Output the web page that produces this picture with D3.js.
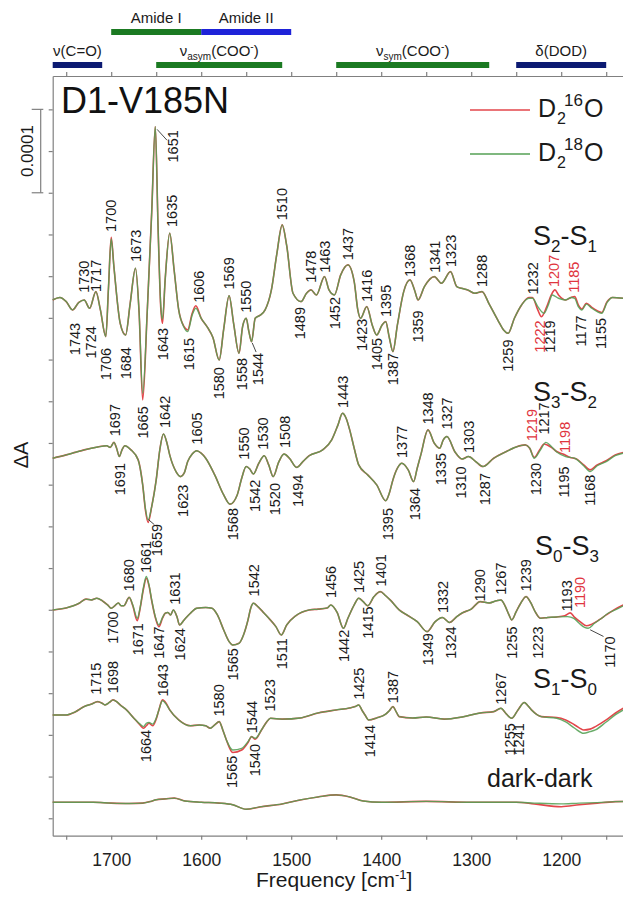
<!DOCTYPE html>
<html><head><meta charset="utf-8">
<script src="https://cdn.jsdelivr.net/npm/d3@7"></script>
<style>body{margin:0;background:#fff}svg{display:block}text{font-family:"Liberation Sans",Arial,sans-serif}</style>
</head><body><svg id="c" width="623" height="903"></svg>
<script>
// ---------- DATA (ΔA in units of 1e-5, relative to each trace's baseline) ----------
const s21_16O = [[1765,0],[1757,0.3],[1750,-0.2],[1743,-1.2],[1736,-0.3],[1730,0],[1724,-1.0],[1717,1.0],[1712,-1.2],[1706,-4.4],[1703,1.5],[1700,7.5],[1697,4],[1690,-2.8],[1684,-4.2],[1679,-0.5],[1673,3.8],[1669,-1.5],[1665,-12.0],[1660,-1.5],[1655,10.5],[1651,20.8],[1648,9],[1645,-0.8],[1643,-2.8],[1640,2.5],[1635,8.0],[1630,3.5],[1625,-1.2],[1619,-3.2],[1615,-3.6],[1610,-1.6],[1606,-0.7],[1600,-2.2],[1593,-3.3],[1587,-4.5],[1580,-7.2],[1575,-3.5],[1569,0.5],[1564,-2.8],[1558,-6.4],[1554,-3.2],[1550,-2.2],[1547,-3.8],[1544,-5.0],[1540,-2.2],[1534,-1.8],[1529,-1.2],[1522,1.2],[1516,5.5],[1510,9.0],[1505,6.5],[1498,0.8],[1489,-0.2],[1483,0.8],[1478,1.2],[1472,0.6],[1463,2.8],[1458,1.2],[1452,0.6],[1445,3.0],[1437,4.2],[1430,2.2],[1426,-1.2],[1423,-2.2],[1416,-0.8],[1410,-3.0],[1405,-4.2],[1399,-3.0],[1395,-2.6],[1391,-4.5],[1387,-6.2],[1382,-3.0],[1375,1.0],[1368,2.4],[1363,1.2],[1359,0],[1352,1.6],[1341,2.8],[1333,2.0],[1323,3.4],[1316,1.6],[1311,1.4],[1304,1.2],[1296,0.8],[1288,1.0],[1280,-0.5],[1270,-2.5],[1264,-3.6],[1259,-4.0],[1252,-2.2],[1244,-0.6],[1236,0.3],[1232,0.3],[1226,-1.2],[1222,-2.0],[1216,-0.8],[1211,0.6],[1207,1.2],[1203,0.6],[1195,0],[1189,0.3],[1185,0.4],[1181,-0.6],[1177,-1.1],[1172,-0.4],[1166,-0.9],[1160,-1.3],[1155,-1.5],[1149,-0.2],[1143,0.3],[1131,0.2]];
const s21_18O = [[1765,0],[1757,0.3],[1750,-0.2],[1743,-1.2],[1736,-0.3],[1730,0],[1724,-1.0],[1717,1.0],[1712,-1.2],[1706,-4.4],[1703,1.5],[1700,7.3],[1697,4],[1690,-2.8],[1684,-4.2],[1679,-0.5],[1673,3.8],[1669,-1.5],[1665,-11.2],[1660,-1.5],[1655,10.5],[1651,20.8],[1648,9],[1645,-0.5],[1643,-2.3],[1640,2.5],[1635,8.0],[1630,3.5],[1625,-1.2],[1619,-3.3],[1615,-3.8],[1610,-1.8],[1606,-1.0],[1600,-2.2],[1593,-3.3],[1587,-4.5],[1580,-7.2],[1575,-3.5],[1569,0.5],[1564,-2.8],[1558,-6.4],[1554,-3.2],[1550,-2.2],[1547,-3.8],[1544,-5.0],[1540,-2.2],[1534,-1.8],[1529,-1.2],[1522,1.2],[1516,5.5],[1510,9.0],[1505,6.5],[1498,0.8],[1489,-0.2],[1483,0.8],[1478,1.2],[1472,0.6],[1463,2.8],[1458,1.2],[1452,0.6],[1445,3.0],[1437,4.2],[1430,2.2],[1426,-1.2],[1423,-2.2],[1416,-0.8],[1410,-3.0],[1405,-4.2],[1399,-3.0],[1395,-2.6],[1391,-4.5],[1387,-6.2],[1382,-3.0],[1375,1.0],[1368,2.4],[1363,1.2],[1359,0],[1352,1.6],[1341,2.8],[1333,2.0],[1323,3.4],[1316,1.6],[1311,1.4],[1304,1.2],[1296,0.8],[1288,1.0],[1280,-0.5],[1270,-2.5],[1264,-3.6],[1259,-4.0],[1252,-2.2],[1244,-0.6],[1236,0.2],[1232,0.2],[1226,-0.8],[1219,-1.6],[1214,-0.5],[1210,0.6],[1203,0.2],[1195,0],[1189,0.3],[1185,0.2],[1181,-0.8],[1177,-1.2],[1172,-0.5],[1166,-1.0],[1160,-1.4],[1155,-1.6],[1149,-0.3],[1143,0.3],[1131,0.2]];

const s32_16O = [[1765,0],[1750,0.4],[1740,0.7],[1730,1.0],[1715,1.35],[1705,1.5],[1701,1.3],[1697,1.9],[1694,1.2],[1691,0.2],[1688,1.0],[1685,1.5],[1678,1.0],[1670,-0.2],[1665,-3.2],[1662,-6.2],[1659,-7.7],[1655,-5.8],[1650,-2.6],[1646,1.0],[1642,2.9],[1638,1.8],[1635,0.4],[1628,-1.6],[1623,-2.2],[1619,-1.8],[1615,-0.4],[1610,0.5],[1605,0.9],[1600,0.6],[1595,0],[1585,-2.0],[1575,-4.4],[1568,-5.5],[1560,-4.4],[1555,-2.4],[1550,-1.0],[1546,-1.3],[1542,-1.9],[1536,-0.6],[1530,0.3],[1525,-0.8],[1520,-2.2],[1514,-0.5],[1508,0.5],[1502,0.0],[1494,-1.1],[1487,-0.4],[1480,0.3],[1465,1.0],[1455,2.2],[1448,4.0],[1443,5.4],[1439,4.8],[1435,3.4],[1430,1.2],[1425,-0.8],[1415,-2.0],[1405,-3.2],[1395,-5.1],[1391,-4.2],[1387,-2.6],[1382,-1.2],[1377,-0.6],[1370,-1.4],[1364,-2.8],[1360,-1.2],[1356,0.4],[1348,3.4],[1341,1.8],[1335,1.2],[1331,2.2],[1327,2.6],[1318,0.75],[1310,-0.1],[1303,0.2],[1295,-0.4],[1287,-1.0],[1275,0],[1262,0.75],[1250,1.35],[1240,1.6],[1235,1.2],[1230,0.1],[1224,1.0],[1219,1.7],[1211,1.3],[1205,0.8],[1198,0.5],[1190,0.1],[1183,-0.1],[1175,-0.8],[1168,-1.4],[1160,-0.8],[1150,-0.3],[1140,0.4],[1131,0.7]];
const s32_18O = [[1765,0],[1750,0.4],[1740,0.7],[1730,1.0],[1715,1.35],[1705,1.5],[1701,1.3],[1697,1.9],[1694,1.2],[1691,0.2],[1688,1.0],[1685,1.5],[1678,1.0],[1670,-0.2],[1665,-3.2],[1662,-6.0],[1659,-7.4],[1655,-5.8],[1650,-2.6],[1646,1.0],[1642,2.9],[1638,1.8],[1635,0.4],[1628,-1.6],[1623,-2.2],[1619,-1.8],[1615,-0.4],[1610,0.5],[1605,0.9],[1600,0.6],[1595,0],[1585,-2.0],[1575,-4.4],[1568,-5.5],[1560,-4.4],[1555,-2.4],[1550,-1.0],[1546,-1.3],[1542,-1.9],[1536,-0.6],[1530,0.3],[1525,-0.8],[1520,-2.2],[1514,-0.5],[1508,0.5],[1502,0.0],[1494,-1.1],[1487,-0.4],[1480,0.3],[1465,1.0],[1455,2.2],[1448,4.0],[1443,5.4],[1439,4.8],[1435,3.4],[1430,1.2],[1425,-0.8],[1415,-2.0],[1405,-3.2],[1395,-5.1],[1391,-4.2],[1387,-2.6],[1382,-1.2],[1377,-0.6],[1370,-1.4],[1364,-2.8],[1360,-1.2],[1356,0.4],[1348,3.4],[1341,1.8],[1335,1.2],[1331,2.2],[1327,2.6],[1318,0.75],[1310,-0.1],[1303,0.2],[1295,-0.4],[1287,-1.0],[1275,0],[1262,0.75],[1250,1.35],[1240,1.6],[1235,1.2],[1230,0],[1223,1.0],[1217,1.9],[1211,1.4],[1205,0.75],[1195,0.2],[1185,0],[1175,-0.9],[1168,-1.6],[1160,-0.9],[1150,-0.4],[1140,0.3],[1131,0.6]];

const s03_16O = [[1765,0],[1750,0.24],[1742,0.5],[1735,0.84],[1728,1.3],[1722,1.2],[1716,1.4],[1710,1.1],[1704,0.6],[1700,0.2],[1696,0.5],[1692,0.84],[1689,0.5],[1686,0.5],[1680,1.5],[1676,0.5],[1671,-1.3],[1668,0.1],[1664,2.6],[1661,3.8],[1658,2.9],[1655,1.1],[1651,-0.9],[1647,-2.0],[1643,-1.0],[1640,-0.4],[1637,-0.3],[1634,-0.6],[1631,0],[1627,-0.8],[1624,-1.8],[1619,-1.2],[1612,-0.4],[1605,0.2],[1595,0.3],[1588,0.2],[1582,-0.6],[1575,-2.4],[1569,-3.8],[1565,-4.2],[1558,-4.0],[1553,-3.0],[1548,-1.2],[1545,0.2],[1542,0.8],[1538,0.5],[1530,-0.4],[1524,-1.1],[1517,-2.0],[1511,-3.0],[1505,-1.8],[1495,-0.7],[1480,0],[1470,0.1],[1460,0.24],[1456,0.6],[1449,-0.3],[1442,-2.2],[1437,-1.0],[1430,0.6],[1425,1.4],[1420,1.0],[1415,0.5],[1408,1.6],[1401,2.2],[1395,1.7],[1390,1.2],[1380,0],[1370,-0.7],[1360,-1.4],[1349,-2.6],[1340,-1.4],[1332,-0.9],[1324,-1.5],[1316,-0.8],[1310,-0.36],[1300,0.1],[1290,1.0],[1280,0.84],[1272,1.1],[1267,1.2],[1262,0.4],[1258,-0.6],[1255,-1.2],[1250,-0.2],[1245,0.8],[1239,1.6],[1234,0.9],[1229,-0.2],[1223,-1.0],[1215,-0.9],[1205,-0.84],[1196,-0.7],[1190,-0.35],[1185,-0.9],[1178,-1.5],[1172,-1.9],[1166,-1.7],[1158,-1.2],[1150,-0.6],[1140,0.1],[1131,0.6]];
const s03_18O = [[1765,0],[1750,0.24],[1742,0.5],[1735,0.84],[1728,1.3],[1722,1.2],[1716,1.4],[1710,1.1],[1704,0.6],[1700,0.2],[1696,0.5],[1692,0.84],[1689,0.5],[1686,0.5],[1680,1.5],[1676,0.6],[1671,-1.0],[1668,0.2],[1664,2.8],[1661,4.0],[1658,3.0],[1655,1.2],[1651,-0.8],[1647,-1.8],[1643,-0.9],[1640,-0.4],[1637,-0.3],[1634,-0.6],[1631,0],[1627,-0.8],[1624,-1.8],[1619,-1.2],[1612,-0.4],[1605,0.2],[1595,0.3],[1588,0.2],[1582,-0.6],[1575,-2.4],[1569,-3.8],[1565,-4.2],[1558,-4.0],[1553,-3.0],[1548,-1.2],[1545,0.2],[1542,0.8],[1538,0.5],[1530,-0.4],[1524,-1.1],[1517,-2.0],[1511,-3.0],[1505,-1.8],[1495,-0.7],[1480,0],[1470,0.1],[1460,0.24],[1456,0.6],[1449,-0.3],[1442,-2.2],[1437,-1.0],[1430,0.6],[1425,1.4],[1420,1.0],[1415,0.5],[1408,1.6],[1401,2.2],[1395,1.7],[1390,1.2],[1380,0],[1370,-0.7],[1360,-1.4],[1349,-2.6],[1340,-1.4],[1332,-0.9],[1324,-1.5],[1316,-0.8],[1310,-0.36],[1300,0.1],[1290,1.0],[1280,0.84],[1272,1.1],[1267,1.2],[1262,0.4],[1258,-0.6],[1255,-1.2],[1250,-0.2],[1245,0.8],[1239,1.6],[1234,0.9],[1229,-0.2],[1223,-1.0],[1215,-0.9],[1205,-0.84],[1193,-0.8],[1186,-1.0],[1180,-1.6],[1174,-2.1],[1170,-2.2],[1163,-1.6],[1155,-1.0],[1148,-0.4],[1140,0],[1131,0.5]];

const s10_16O = [[1765,0],[1750,0],[1740,0.36],[1730,1.0],[1722,1.3],[1715,1.6],[1710,1.4],[1707,1.2],[1702,1.5],[1698,1.8],[1694,1.6],[1690,1.2],[1683,0.6],[1675,-0.36],[1668,-1.2],[1664,-1.6],[1661,-1.3],[1658,-1.0],[1654,-1.3],[1650,-0.5],[1647,0.6],[1643,1.8],[1639,1.4],[1635,0.6],[1625,-0.6],[1612,-1.3],[1602,-1.2],[1595,-1.3],[1590,-1.6],[1585,-1.2],[1580,-0.8],[1576,-1.8],[1572,-3.0],[1565,-4.5],[1555,-4.2],[1548,-3.3],[1544,-2.6],[1540,-2.9],[1533,-1.8],[1527,-0.8],[1523,-0.4],[1510,-0.5],[1490,-0.36],[1470,0.24],[1450,0.6],[1435,0.84],[1429,1.0],[1425,1.2],[1421,0.5],[1418,0],[1414,-0.6],[1405,-0.36],[1395,0.1],[1391,0.5],[1387,1.0],[1383,0.3],[1380,-0.2],[1365,-0.36],[1350,-0.24],[1330,-0.5],[1310,-0.24],[1290,0.24],[1275,0.4],[1267,0.8],[1261,0.12],[1255,-0.4],[1248,0.6],[1241,1.5],[1237,1.1],[1233,0.6],[1222,-0.2],[1205,-0.3],[1195,-0.6],[1185,-1.2],[1175,-1.8],[1168,-1.7],[1162,-1.4],[1150,-0.6],[1140,0.2],[1131,0.8]];
const s10_18O = [[1765,0],[1750,0],[1740,0.36],[1730,1.0],[1722,1.3],[1715,1.6],[1710,1.4],[1707,1.2],[1702,1.5],[1698,1.8],[1694,1.6],[1690,1.2],[1683,0.6],[1675,-0.36],[1668,-1.1],[1664,-1.4],[1661,-1.0],[1658,-0.9],[1654,-1.1],[1650,-0.4],[1647,0.6],[1643,1.7],[1639,1.3],[1635,0.6],[1625,-0.6],[1612,-1.3],[1602,-1.2],[1595,-1.3],[1590,-1.6],[1585,-1.2],[1580,-0.8],[1576,-1.8],[1572,-3.0],[1565,-4.2],[1555,-4.0],[1548,-3.2],[1544,-2.6],[1540,-2.8],[1533,-1.8],[1527,-0.8],[1523,-0.4],[1510,-0.5],[1490,-0.36],[1470,0.24],[1450,0.6],[1435,0.84],[1429,1.0],[1425,1.2],[1421,0.5],[1418,0],[1414,-0.6],[1405,-0.36],[1395,0.1],[1391,0.5],[1387,1.0],[1383,0.3],[1380,-0.2],[1365,-0.36],[1350,-0.24],[1330,-0.5],[1310,-0.24],[1290,0.24],[1275,0.4],[1267,0.8],[1261,0.12],[1255,-0.4],[1248,0.6],[1241,1.5],[1237,1.1],[1233,0.6],[1222,-0.2],[1205,-0.4],[1195,-0.84],[1185,-1.6],[1175,-2.2],[1168,-2.0],[1162,-1.8],[1150,-0.84],[1140,0],[1131,0.6]];

const dd_16O = [[1765,0],[1740,0],[1720,0],[1700,-0.1],[1680,-0.15],[1665,-0.1],[1656,0.1],[1650,0.3],[1640,0.4],[1630,0.5],[1618,0.15],[1600,0],[1580,-0.1],[1565,-0.3],[1550,-0.84],[1535,-0.56],[1510,-0.2],[1490,0.28],[1470,0.64],[1450,0.88],[1435,0.64],[1420,0.15],[1400,0],[1350,0.1],[1300,0],[1250,0],[1230,-0.2],[1200,-0.53],[1180,-0.3],[1160,-0.1],[1140,0.07],[1131,0.1]];
const dd_18O = [[1765,0],[1740,0],[1720,0],[1700,-0.1],[1680,-0.15],[1665,-0.1],[1656,0.1],[1650,0.3],[1640,0.4],[1630,0.5],[1618,0.15],[1600,0],[1580,-0.1],[1565,-0.3],[1550,-0.84],[1535,-0.56],[1510,-0.2],[1490,0.28],[1470,0.64],[1450,0.88],[1435,0.64],[1420,0.15],[1400,0],[1350,0.1],[1300,0],[1250,0],[1230,-0.1],[1200,-0.2],[1180,-0.1],[1160,-0.05],[1140,0.07],[1131,0.1]];

// vertical offsets of the traces (1e-5 ΔA)
const traceOffsets = [62.15, 43.17, 24.98, 12.39, 1.92];
const traceNames = ["S2-S1","S3-S2","S0-S3","S1-S0","dark-dark"];

// peak labels: [text, x position (cm-1), y position (1e-5 ΔA, absolute), side, colour]
const labelsS21 = [["1730",1730,63.0,"u"],["1717",1717,63.1,"u"],["1700",1700,70.3,"u"],["1673",1673,66.7,"u"],["1635",1632.6,70.9,"u"],["1606",1602.2,61.8,"u"],["1569",1569,63.4,"u"],["1550",1550,60.6,"u"],["1510",1510,71.7,"u"],["1478",1478,64.2,"u"],["1463",1463,65.4,"u"],["1437",1437,66.9,"u"],["1416",1416,61.9,"u"],["1395",1395,60.1,"u"],["1368",1368,64.9,"u"],["1341",1341,65.4,"u"],["1323",1323,66.1,"u"],["1288",1288,63.7,"u"],["1232",1232,62.8,"u"],["1207",1208.6,63.7,"u","r"],["1185",1186.3,63.0,"u","r"],
["1743",1741,59.4,"d"],["1724",1722.4,59.0,"d"],["1706",1706,56.4,"d"],["1684",1684,56.5,"d"],["1665",1665,49.4,"d"],["1643",1643,58.8,"d"],["1615",1613.3,57.6,"d"],["1580",1580,54.1,"d"],["1558",1554.8,55.2,"d"],["1544",1537.2,55.8,"d"],["1489",1491,61.3,"d"],["1452",1452,62.5,"d"],["1423",1422,59.9,"d"],["1405",1405,57.6,"d"],["1387",1387,55.8,"d"],["1359",1359,60.9,"d"],["1259",1259,57.4,"d"],["1222",1223.3,59.7,"d","r"],["1219",1212.2,59.7,"d"],["1177",1178.6,60.3,"d"],["1155",1156,60.0,"d"],["1651",1631.7,82.5,"d"]];
const labelsS32 = [["1697",1696.4,45.8,"u"],["1642",1641,46.8,"u"],["1605",1604.4,44.8,"u"],["1550",1552.2,43.0,"u"],["1530",1531.7,44.2,"u"],["1508",1507.6,44.4,"u"],["1443",1443,49.2,"u"],["1377",1377,43.2,"u"],["1348",1348.3,47.2,"u"],["1327",1327,46.6,"u"],["1303",1303,43.8,"u"],["1219",1232.6,45.2,"u","r"],["1217",1219.7,46.0,"u"],["1198",1195.6,43.8,"u","r"],
["1691",1690.9,42.6,"d"],["1659",1649,35.3,"d"],["1623",1620.6,40.0,"d"],["1568",1565,37.2,"d"],["1542",1540.9,40.6,"d"],["1520",1518.7,40.2,"d"],["1494",1492.8,41.2,"d"],["1395",1392.8,37.2,"d"],["1364",1363.1,39.6,"d"],["1335",1333.6,43.8,"d"],["1310",1311.3,42.2,"d"],["1287",1285.3,41.4,"d"],["1230",1228,42.6,"d"],["1195",1197.4,42.2,"d"],["1168",1168.7,41.2,"d"]];
const labelsS03 = [["1680",1680,27.2,"u"],["1661",1661.5,29.4,"u"],["1631",1629.8,25.6,"u"],["1542",1542,26.6,"u"],["1456",1456,26.4,"u"],["1425",1425,27.0,"u"],["1401",1401,27.8,"u"],["1332",1332,24.6,"u"],["1290",1290,26.0,"u"],["1267",1267,26.8,"u"],["1239",1239,27.2,"u"],["1193",1193.7,24.8,"u"],["1190",1179,25.2,"u","r"],
["1700",1698.6,24.8,"d"],["1671",1671,23.4,"d"],["1647",1647,23.0,"d"],["1624",1624,22.8,"d"],["1565",1565,20.4,"d"],["1511",1510.2,21.6,"d"],["1442",1442,22.6,"d"],["1415",1415,25.4,"d"],["1349",1348.3,22.2,"d"],["1324",1322.2,23.0,"d"],["1255",1255,23.0,"d"],["1223",1226,23.0,"d"],["1170",1146.4,21.8,"d"]];
const labelsS10 = [["1715",1716.9,14.8,"u"],["1698",1698,15.0,"u"],["1643",1643,14.6,"u"],["1580",1580,12.2,"u"],["1544",1544,10.2,"u"],["1523",1524.2,12.8,"u"],["1425",1425,14.2,"u"],["1387",1387,13.8,"u"],["1267",1267,13.6,"u"],
["1664",1661.3,10.6,"d"],["1565",1566,7.5,"d"],["1540",1540,8.9,"d"],["1414",1413,11.2,"d"],["1255",1257.6,11.4,"d"],["1241",1247.4,11.4,"d"]];
// leader lines [[cm-1, ΔA],[cm-1, ΔA]]
const leaders = [[[1649,82.6],[1638,81.3]],[[1543.3,57.0],[1539,55.9]],[[1658.5,35.8],[1652,35.2]],[[1167.8,22.6],[1153,21.8]]];

// band assignment bars: [label, from, to, row, colour key]
const bands = [["ν(C=O)",1765,1710,2,"navy"],["Amide I",1700,1600,1,"green"],["Amide II",1600,1500,1,"blue"],["νasym(COO-)",1650,1510,2,"green"],["νsym(COO-)",1450,1280,2,"green"],["δ(DOD)",1250,1150,2,"navy"]];

const xTicks = [1750,1700,1650,1600,1550,1500,1450,1400,1350,1300,1250,1200,1150];
const xTickLabels = [1700,1600,1500,1400,1300,1200];
const yTicks = d3.range(0, 86, 5);

// ---------- DRAW ----------
const RED = "#e3464b", GREEN = "#54a054", LBLRED = "#e0353d";
const bandCol = {navy:"#0c1a72", green:"#1b7a22", blue:"#1e22d8"};
const svg = d3.select("#c");
const x = d3.scaleLinear().domain([1765,1131]).range([52.7,623.3]);
const y = d3.scaleLinear().domain([-2.09,89.0]).range([835.7,76]);

const axCol = "#808080";
const gB = svg.append("g").attr("transform","translate(0,835.7)")
  .call(d3.axisBottom(x).tickValues(xTicks).tickSize(4).tickSizeOuter(0)
  .tickFormat(d => xTickLabels.includes(d) ? d : ""));
gB.selectAll("text").attr("font-size",17.5).attr("fill","#222").attr("dy",0).attr("y",30);
const gT = svg.append("g").attr("transform","translate(0,76)")
  .call(d3.axisTop(x).tickValues(xTicks).tickSize(4).tickSizeOuter(0).tickFormat(""));
const gL = svg.append("g").attr("transform","translate(52.7,0)")
  .call(d3.axisLeft(y).tickValues(yTicks).tickSize(4).tickSizeOuter(0).tickFormat(""));
svg.selectAll(".domain, .tick line").attr("stroke",axCol).attr("stroke-width",1.2);
svg.selectAll(".tick text").attr("font-family",'"Liberation Sans",Arial,sans-serif');

const series = [[s21_16O,s21_18O],[s32_16O,s32_18O],[s03_16O,s03_18O],[s10_16O,s10_18O],[dd_16O,dd_18O]];
const plot = svg.append("g");
series.forEach((pair,i)=>{
  const off = traceOffsets[i];
  const line = d3.line().x(d=>x(d[0])).y(d=>y(d[1]+off)).curve(d3.curveMonotoneX);
  plot.append("path").attr("d",line(pair[0])).attr("fill","none").attr("stroke",RED).attr("stroke-width",1.6);
  plot.append("path").attr("d",line(pair[1])).attr("fill","none").attr("stroke",GREEN).attr("stroke-width",1.4).attr("stroke-opacity",0.88);
});

const lg = svg.append("g");
[labelsS21,labelsS32,labelsS03,labelsS10].forEach(arr=>arr.forEach(l=>{
  const [t,f,v,side,c] = l;
  lg.append("text").attr("transform",`translate(${x(f)+5.2},${y(v)}) rotate(-90)`)
    .attr("text-anchor", side==="u"?"start":"end").attr("font-size",14.5)
    .attr("fill", c==="r"?LBLRED:"#1a1a1a").text(t);
}));
leaders.forEach(l=>{
  lg.append("line").attr("x1",x(l[0][0])).attr("y1",y(l[0][1])).attr("x2",x(l[1][0])).attr("y2",y(l[1][1]))
    .attr("stroke","#333").attr("stroke-width",0.9);
});

const bg = svg.append("g");
bands.forEach(b=>{
  const [lab,f1,f2,row,col] = b;
  const yb = row===1 ? 29 : 62;
  bg.append("rect").attr("x",x(f1)).attr("y",yb).attr("width",x(f2)-x(f1)).attr("height",6).attr("fill",bandCol[col]);
  const tx = bg.append("text").attr("x",(x(f1)+x(f2))/2).attr("y",yb-6.5).attr("text-anchor","middle")
    .attr("font-size",15).attr("fill","#1a1a1a");
  if (lab.startsWith("νasym")||lab.startsWith("νsym")){
    const sub = lab.startsWith("νasym") ? "asym" : "sym";
    tx.append("tspan").text("ν");
    tx.append("tspan").attr("font-size",10).attr("dy",4).text(sub);
    tx.append("tspan").attr("dy",-4).text("(COO");
    tx.append("tspan").attr("font-size",10).attr("dy",-6).text("-");
    tx.append("tspan").attr("dy",6).text(")");
  } else tx.text(lab);
});

svg.append("text").attr("x",61).attr("y",113).attr("font-size",36).attr("fill","#111").text("D1-V185N");

const leg = [["16",RED,110,117],["18",GREEN,154,161]];
leg.forEach(l=>{
  svg.append("line").attr("x1",470).attr("x2",530).attr("y1",l[2]).attr("y2",l[2]).attr("stroke",l[1]).attr("stroke-width",1.3);
  const t = svg.append("text").attr("y",l[3]).attr("font-size",25).attr("fill","#1a1a1a");
  t.append("tspan").attr("x",538).text("D");
  t.append("tspan").attr("x",557).attr("dy",7).attr("font-size",16).text("2");
  t.append("tspan").attr("x",564).attr("dy",-18).attr("font-size",17).text(l[0]);
  t.append("tspan").attr("x",584).attr("dy",11).text("O");
});

const nm = [["2","1",533,245],["3","2",533,401],["0","3",535,555],["1","0",533,688]];
nm.forEach(n=>{
  const t = svg.append("text").attr("x",n[2]).attr("y",n[3]).attr("font-size",27).attr("fill","#1a1a1a");
  t.append("tspan").text("S");
  t.append("tspan").attr("font-size",17).attr("dy",7).text(n[0]);
  t.append("tspan").attr("dy",-7).text("-S");
  t.append("tspan").attr("font-size",17).attr("dy",7).text(n[1]);
});
svg.append("text").attr("x",487).attr("y",787).attr("font-size",25).attr("fill","#1a1a1a").text("dark-dark");

svg.append("text").attr("transform","translate(28,455) rotate(-90)").attr("text-anchor","middle")
  .attr("font-size",20).attr("fill","#1a1a1a").text("ΔA");
const sb = svg.append("g").attr("stroke",axCol).attr("stroke-width",1.2);
sb.append("line").attr("x1",40.7).attr("x2",40.7).attr("y1",y(85)).attr("y2",y(75));
sb.append("line").attr("x1",31.7).attr("x2",43.3).attr("y1",y(85)).attr("y2",y(85));
sb.append("line").attr("x1",31.7).attr("x2",43.3).attr("y1",y(75)).attr("y2",y(75));
svg.append("text").attr("transform",`translate(33,${y(80)}) rotate(-90)`).attr("text-anchor","middle")
  .attr("font-size",17).attr("fill","#1a1a1a").text("0.0001");

const xl = svg.append("text").attr("x",256).attr("y",887).attr("font-size",21).attr("fill","#1a1a1a");
xl.append("tspan").text("Frequency [cm");
xl.append("tspan").attr("font-size",13).attr("dy",-8).text("-1");
xl.append("tspan").attr("dy",8).text("]");
</script></body></html>
